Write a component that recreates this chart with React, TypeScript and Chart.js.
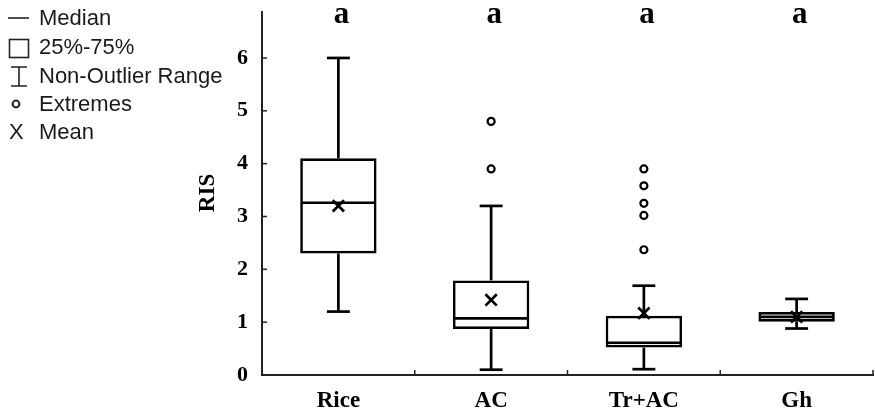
import { useEffect, useRef } from "react";
import { Chart, registerables } from "chart.js";

Chart.register(...registerables);

const categories = ["Rice", "AC", "Tr+AC", "Gh"];
const whiskerLow = [1.2, 0.1, 0.11, 0.88];
const quartile1 = [2.3, 0.87, 0.52, 1.01];
const medians = [3.26, 1.07, 0.61, 1.1];
const quartile3 = [4.1, 1.79, 1.12, 1.19];
const whiskerHigh = [6.0, 3.2, 1.69, 1.44];
const means = [3.2, 1.42, 1.17, 1.1];
const extremeCategories = ["AC", "AC", "Tr+AC", "Tr+AC", "Tr+AC", "Tr+AC", "Tr+AC"];
const extremeValues = [4.8, 3.9, 3.9, 3.58, 3.25, 3.02, 2.37];
const groupLetters = ["a", "a", "a", "a"];
const yTickValues = [0, 1, 2, 3, 4, 5, 6];
const legendLabels = ["Median", "25%-75%", "Non-Outlier Range", "Extremes", "Mean"];

const SERIF = "'Liberation Serif', 'Times New Roman', serif";
const SANS = "'Liberation Sans', Arial, sans-serif";

const boxPlugin = {
  id: "boxExtras",
  afterDatasetDraw(chart: any, args: any) {
    if (args.index !== 0) return;
    const ctx = chart.ctx;
    const y = chart.scales.y;
    const meta = chart.getDatasetMeta(0);
    ctx.save();
    ctx.strokeStyle = "#000";
    ctx.lineWidth = 2.7;
    const line = (x1: number, y1: number, x2: number, y2: number) => {
      ctx.beginPath();
      ctx.moveTo(x1, y1);
      ctx.lineTo(x2, y2);
      ctx.stroke();
    };
    meta.data.forEach((bar: any, i: number) => {
      const p = bar.getProps(["x", "width"], true);
      const cx = p.x;
      const half = p.width / 2;
      const cap = p.width * 0.15;
      const pm = y.getPixelForValue(medians[i]);
      line(cx - half + 1, pm, cx + half - 1, pm);
      const p3 = y.getPixelForValue(quartile3[i]);
      const ph = y.getPixelForValue(whiskerHigh[i]);
      line(cx, p3, cx, ph);
      line(cx - cap, ph, cx + cap, ph);
      const p1 = y.getPixelForValue(quartile1[i]);
      const pl = y.getPixelForValue(whiskerLow[i]);
      line(cx, p1, cx, pl);
      line(cx - cap, pl, cx + cap, pl);
    });
    ctx.restore();
  },
  afterDraw(chart: any) {
    const ctx = chart.ctx;
    const x = chart.scales.x;
    const y = chart.scales.y;
    const area = chart.chartArea;
    ctx.save();
    // axis ticks
    ctx.strokeStyle = "#222";
    ctx.lineWidth = 1.5;
    yTickValues.forEach((v) => {
      const py = y.getPixelForValue(v);
      ctx.beginPath();
      ctx.moveTo(area.left - 1, py);
      ctx.lineTo(area.left + 5, py);
      ctx.stroke();
    });
    for (let i = 0; i < categories.length; i++) {
      const bx =
        i < categories.length - 1
          ? (x.getPixelForValue(i) + x.getPixelForValue(i + 1)) / 2
          : area.right;
      ctx.beginPath();
      ctx.moveTo(bx, area.bottom);
      ctx.lineTo(bx, area.bottom - 5);
      ctx.stroke();
    }
    // group letters
    ctx.fillStyle = "#000";
    ctx.font = `bold 31px ${SERIF}`;
    ctx.textAlign = "center";
    ctx.textBaseline = "middle";
    groupLetters.forEach((l, i) => {
      ctx.fillText(l, x.getPixelForValue(i) + 3, 15);
    });
    // y title
    ctx.save();
    ctx.translate(208, 193);
    ctx.rotate(-Math.PI / 2);
    ctx.font = `bold 23px ${SERIF}`;
    ctx.fillText("RIS", 0, 0);
    ctx.restore();
    // legend
    const ys = [18, 47, 76, 104, 132];
    ctx.strokeStyle = "#222";
    ctx.fillStyle = "#1a1a1a";
    ctx.lineWidth = 1.6;
    ctx.beginPath();
    ctx.moveTo(8, ys[0]);
    ctx.lineTo(29, ys[0]);
    ctx.stroke();
    ctx.strokeRect(9.5, 39.5, 19, 18);
    ctx.beginPath();
    ctx.moveTo(19, 67);
    ctx.lineTo(19, 86);
    ctx.moveTo(11, 67);
    ctx.lineTo(27, 67);
    ctx.moveTo(11, 86);
    ctx.lineTo(27, 86);
    ctx.stroke();
    ctx.lineWidth = 2;
    ctx.beginPath();
    ctx.arc(16, ys[3], 3.4, 0, Math.PI * 2);
    ctx.stroke();
    ctx.font = `22px ${SANS}`;
    ctx.textAlign = "left";
    ctx.fillText("X", 9, ys[4] + 1);
    legendLabels.forEach((t, i) => {
      ctx.fillText(t, 39, ys[i] + 1);
    });
    ctx.restore();
  },
};

export default function App() {
  const ref = useRef<HTMLCanvasElement>(null);
  useEffect(() => {
    document.body.style.margin = "0";
    if (!ref.current) return;
    const chart = new Chart(ref.current, {
      type: "bar",
      data: {
        labels: categories,
        datasets: [
          {
            type: "bar",
            data: categories.map((_, i) => [quartile1[i], quartile3[i]]) as any,
            backgroundColor: "#fff",
            borderColor: "#000",
            borderWidth: 2.7,
            borderSkipped: false,
            barPercentage: 0.5,
            categoryPercentage: 1,
            order: 1,
          },
          {
            type: "line",
            data: means as any,
            showLine: false,
            pointStyle: "crossRot",
            pointRadius: 8,
            pointBorderWidth: 2.7,
            pointBorderColor: "#000",
            pointBackgroundColor: "#000",
            order: 0,
          } as any,
          {
            type: "line",
            data: extremeCategories.map((c, i) => ({ x: c, y: extremeValues[i] })) as any,
            showLine: false,
            pointStyle: "circle",
            pointRadius: 3.5,
            pointBorderWidth: 2.2,
            pointBorderColor: "#000",
            pointBackgroundColor: "#fff",
            order: 0,
          } as any,
        ],
      },
      options: {
        responsive: false,
        animation: false,
        layout: { autoPadding: false, padding: { top: 12, right: 2, left: 0, bottom: 0 } },
        plugins: { legend: { display: false }, tooltip: { enabled: false } },
        scales: {
          x: {
            type: "category",
            offset: true,
            grid: { display: false, drawTicks: false },
            border: { display: true, color: "#222", width: 2 },
            ticks: {
              color: "#000",
              font: { family: SERIF, size: 23, weight: "bold" },
              padding: 12,
            },
            afterFit: (s: any) => {
              s.height = 42;
              s.paddingLeft = 0;
              s.paddingRight = 0;
            },
          },
          y: {
            type: "linear",
            min: 0,
            max: 6.87,
            grid: { display: false, drawTicks: false },
            border: { display: true, color: "#222", width: 2 },
            ticks: {
              color: "#000",
              font: { family: SERIF, size: 22, weight: "bold" },
              padding: 14,
            },
            afterBuildTicks: (s: any) => {
              s.ticks = yTickValues.map((v) => ({ value: v }));
            },
            afterFit: (s: any) => {
              s.width = 262;
              s.paddingTop = 0;
              s.paddingBottom = 0;
            },
          },
        },
      } as any,
      plugins: [boxPlugin],
    });
    return () => chart.destroy();
  }, []);
  return (
    <div style={{ width: 875, height: 417 }}>
      <canvas ref={ref} width={875} height={417} style={{ width: 875, height: 417, display: "block" }} />
    </div>
  );
}
